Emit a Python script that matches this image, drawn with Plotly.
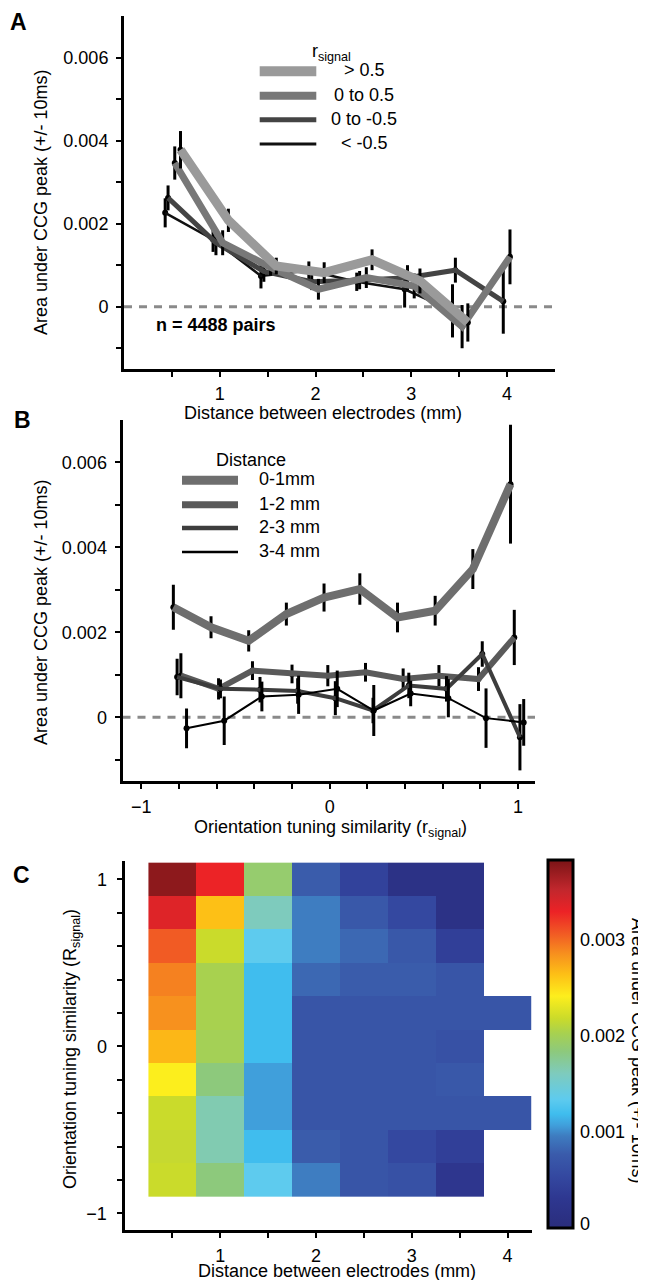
import plotly.graph_objects as go

W, H = 646, 1280
FONT = "Liberation Sans, Arial, Helvetica, sans-serif"

# ---------------- Panel A data: CCG area vs distance, by r_signal ----------------
dist_bins = [0.5, 1.0, 1.5, 2.0, 2.5, 3.0, 3.5, 4.0]
a_names = ["> 0.5", "0 to 0.5", "0 to -0.5", "< -0.5"]
a_offsets = [0.09, 0.03, -0.04, -0.07]
a_vals = [
    [0.00378, 0.00208, 0.00098, 0.00082, 0.00113, 0.00062, -0.00038],
    [0.00346, 0.00154, 0.00095, 0.00042, 0.00070, 0.00050, -0.00048, 0.00120],
    [0.00262, 0.00154, 0.00085, 0.00060, 0.00064, 0.00070, 0.00088, 0.00013],
    [0.00226, 0.00162, 0.00074, 0.00087, 0.00060, 0.00042, -0.00010],
]
a_errs = [
    [0.00045, 0.00028, 0.00020, 0.00025, 0.00025, 0.00030, 0.00046],
    [0.00040, 0.00030, 0.00020, 0.00025, 0.00025, 0.00030, 0.00052, 0.00066],
    [0.00030, 0.00030, 0.00025, 0.00020, 0.00022, 0.00030, 0.00030, 0.00078],
    [0.00035, 0.00030, 0.00030, 0.00022, 0.00022, 0.00044, 0.00064],
]
a_colors = ["#9a9a9a", "#787878", "#444444", "#111111"]
a_widths = [9, 7, 5, 2.5]

# ---------------- Panel B data: CCG area vs r_signal, by distance ----------------
b_names = ["0-1mm", "1-2 mm", "2-3 mm", "3-4 mm"]
b_x = [
    [-0.83, -0.63, -0.43, -0.23, -0.03, 0.16, 0.36, 0.56, 0.76, 0.96],
    [-0.79, -0.59, -0.41, -0.20, -0.01, 0.19, 0.39, 0.58, 0.79, 0.98],
    [-0.81, -0.58, -0.37, -0.17, 0.03, 0.23, 0.42, 0.62, 0.81, 1.01],
    [-0.76, -0.56, -0.36, -0.165, 0.04, 0.234, 0.43, 0.63, 0.83, 1.03],
]
b_vals = [
    [0.00259, 0.00212, 0.00180, 0.00243, 0.00282, 0.00302, 0.00235, 0.00251, 0.00349, 0.00549],
    [0.00098, 0.00067, 0.00110, 0.00102, 0.00098, 0.00106, 0.00090, 0.00098, 0.00090, 0.00188],
    [0.00095, 0.00067, 0.00065, 0.00062, 0.00045, 0.00016, 0.00075, 0.00067, 0.00149, -0.00047],
    [-0.00026, -0.00008, 0.00049, 0.00053, 0.00067, 0.00016, 0.00056, 0.00045, -0.00002, -0.00012],
]
b_errs = [
    [0.00053, 0.00026, 0.00025, 0.00027, 0.00033, 0.00037, 0.00035, 0.00035, 0.00047, 0.00140],
    [0.00053, 0.00025, 0.00022, 0.00022, 0.00025, 0.00022, 0.00025, 0.00025, 0.00028, 0.00065],
    [0.00043, 0.00022, 0.00030, 0.00030, 0.00040, 0.00030, 0.00030, 0.00030, 0.00030, 0.00078],
    [0.00047, 0.00057, 0.00035, 0.00045, 0.00043, 0.00060, 0.00030, 0.00045, 0.00070, 0.00055],
]
b_colors = ["#6e6e6e", "#5a5a5a", "#3d3d3d", "#000000"]
b_widths = [8, 6, 4, 2]

# ---------------- Panel C data: heat map ----------------
c_dist = [0.5, 1.0, 1.5, 2.0, 2.5, 3.0, 3.5, 4.0]
c_r = [-0.8, -0.6, -0.4, -0.2, 0.0, 0.2, 0.4, 0.6, 0.8, 1.0]
c_z = [
    [0.00218, 0.00184, 0.00134, 0.00096, 0.00069, 0.00065, 0.00027, None],
    [0.00216, 0.00165, 0.00119, 0.00077, 0.00069, 0.00054, 0.00042, None],
    [0.00218, 0.00165, 0.00107, 0.00069, 0.00069, 0.00069, 0.00069, 0.00069],
    [0.00241, 0.00184, 0.00107, 0.00069, 0.00069, 0.00069, 0.00073, None],
    [0.00268, 0.00200, 0.00119, 0.00069, 0.00069, 0.00069, 0.00065, None],
    [0.00285, 0.00203, 0.00119, 0.00069, 0.00069, 0.00069, 0.00069, 0.00069],
    [0.00291, 0.00203, 0.00119, 0.00084, 0.00077, 0.00077, 0.00069, None],
    [0.00306, 0.00218, 0.00134, 0.00096, 0.00084, 0.00073, 0.00042, None],
    [0.00337, 0.00264, 0.00161, 0.00096, 0.00073, 0.00054, 0.00015, None],
    [0.00375, 0.00329, 0.00190, 0.00077, 0.00046, 0.00015, 0.00015, None],
]
c_zmax = 0.00383
cbar_labels = [0, 0.001, 0.002, 0.003]
cbar_text = ["0", "0.001", "0.002", "0.003"]
cbar_minor = [0.0005, 0.001, 0.0015, 0.002, 0.0025, 0.003, 0.0035]
c_colorscale = [
    [0.0, "#2a2d7c"], [0.08, "#2e3790"], [0.14, "#3448a0"], [0.2, "#3a5bab"],
    [0.25, "#3e7cc0"], [0.28, "#40a0dc"], [0.31, "#3fbdee"], [0.35, "#5ecbee"],
    [0.42, "#7ecbbd"], [0.48, "#8dc97c"], [0.53, "#a8d14f"], [0.57, "#cbdb2a"],
    [0.63, "#fdee1d"], [0.69, "#fdbf16"], [0.745, "#f7901e"], [0.80, "#f15a24"],
    [0.86, "#ec2226"], [0.92, "#c1272d"], [1.0, "#7b1416"],
]


def px(x):
    return x / W


def py(y):
    return 1 - y / H


fig = go.Figure()

# Panel A traces (black first, lightest on top)
for i in [3, 2, 1, 0]:
    xs = [dist_bins[k] + a_offsets[i] for k in range(len(a_vals[i]))]
    fig.add_trace(go.Scatter(
        x=xs, y=a_vals[i], mode="markers", xaxis="x", yaxis="y",
        marker=dict(color="black", size=6),
        error_y=dict(type="data", array=a_errs[i], color="black", thickness=3, width=0),
        showlegend=False, hoverinfo="skip"))
    fig.add_trace(go.Scatter(
        x=xs, y=a_vals[i], mode="lines", xaxis="x", yaxis="y",
        line=dict(color=a_colors[i], width=a_widths[i]),
        showlegend=False, name=a_names[i]))

# Panel B traces
for i in [0, 1, 2, 3]:
    fig.add_trace(go.Scatter(
        x=b_x[i], y=b_vals[i], mode="markers", xaxis="x2", yaxis="y2",
        marker=dict(color="black", size=6),
        error_y=dict(type="data", array=b_errs[i], color="black", thickness=3, width=0),
        showlegend=False, hoverinfo="skip"))
    fig.add_trace(go.Scatter(
        x=b_x[i], y=b_vals[i], mode="lines", xaxis="x2", yaxis="y2",
        line=dict(color=b_colors[i], width=b_widths[i]),
        showlegend=False, name=b_names[i]))

# Panel C heatmap
cb_top, cb_bot = 852, 1220
cb_left, cb_thick = 540, 25
fig.add_trace(go.Heatmap(
    x=c_dist, y=c_r, z=c_z, xaxis="x3", yaxis="y3",
    colorscale=c_colorscale, zmin=0, zmax=c_zmax, hoverinfo="skip",
    colorbar=dict(
        x=px(cb_left), xanchor="left", xpad=0,
        y=py((cb_top + cb_bot) / 2), yanchor="middle", ypad=0,
        len=cb_bot - cb_top, lenmode="pixels", thickness=cb_thick, thicknessmode="pixels",
        outlinewidth=3, outlinecolor="black",
        ticks="", showticklabels=False,
    )))

axis_common = dict(showline=True, linewidth=3, linecolor="black", ticks="outside",
                   ticklen=5, tickwidth=2, tickcolor="black", showgrid=False,
                   zeroline=False, tickfont=dict(size=18, family=FONT, color="black"),
                   fixedrange=True)

ytv = [0, 0.002, 0.004, 0.006]
ytt = ["0", "0.002", "0.004", "0.006"]
yminor = dict(tickvals=[-0.001, 0.001, 0.003, 0.005], ticks="outside", ticklen=5,
              tickwidth=2, tickcolor="black")
xdist_minor = dict(tickvals=[0.5, 1.5, 2.5, 3.5], ticks="outside", ticklen=5,
                   tickwidth=2, tickcolor="black")
r_minor = dict(tickvals=[-0.8, -0.6, -0.4, -0.2, 0.2, 0.4, 0.6, 0.8],
               ticks="outside", ticklen=5, tickwidth=2, tickcolor="black")

fig.update_layout(
    width=W, height=H, margin=dict(l=0, r=0, t=0, b=0),
    paper_bgcolor="white", plot_bgcolor="white",
    font=dict(family=FONT, size=18, color="black"),
    showlegend=False,
    xaxis=dict(domain=[px(116), px(547)], range=[0, 4.5], anchor="y",
               tickvals=[1, 2, 3, 4], ticktext=["1", "2", "3", "4"],
               minor=xdist_minor, ticklabelstandoff=1, **axis_common),
    yaxis=dict(domain=[py(361), py(8)], range=[-0.0015, 0.007], anchor="x",
               tickvals=ytv, ticktext=ytt, minor=yminor, ticklabelstandoff=4, **axis_common),
    xaxis2=dict(domain=[px(114.5), px(527)], range=[-1.1, 1.09], anchor="y2",
                tickvals=[-1, 0, 1], ticktext=["\u22121", "0", "1"],
                minor=r_minor, ticklabelstandoff=2, **axis_common),
    yaxis2=dict(domain=[py(773), py(412)], range=[-0.0015, 0.007], anchor="x2",
                tickvals=ytv, ticktext=ytt, minor=yminor, ticklabelstandoff=4, **axis_common),
    xaxis3=dict(domain=[px(116.5), px(523.5)], range=[0, 4.25], anchor="y3",
                tickvals=[1, 2, 3, 4], ticktext=["1", "2", "3", "4"],
                minor=xdist_minor, ticklabelstandoff=2, **axis_common),
    yaxis3=dict(domain=[py(1222), py(853)], range=[-1.1, 1.11], anchor="x3",
                tickvals=[-1, 0, 1], ticktext=["\u22121", "0", "1"],
                minor=r_minor, ticklabelstandoff=6, **axis_common),
)

# dashed zero lines
for xr, yr in [("x domain", "y"), ("x2 domain", "y2")]:
    fig.add_shape(type="line", xref=xr, yref=yr, x0=0, x1=1, y0=0, y1=0,
                  line=dict(color="#8a8a8a", width=3, dash="8px,7px"), layer="below")


def cb_y(v):
    return cb_bot - v / c_zmax * (cb_bot - cb_top)


# colorbar tick marks on both inner edges (MATLAB style)
for v in cbar_minor:
    yy = cb_y(v)
    for x0, x1 in [(cb_left, cb_left + 5), (cb_left + cb_thick - 5, cb_left + cb_thick)]:
        fig.add_shape(type="line", xref="paper", yref="paper", x0=px(x0), x1=px(x1),
                      y0=py(yy), y1=py(yy), line=dict(color="black", width=2))


def legend_line(x0, x1, y, color, width):
    fig.add_shape(type="line", xref="paper", yref="paper", x0=px(x0), x1=px(x1),
                  y0=py(y), y1=py(y), line=dict(color=color, width=width))


def text(x, y, s, size=18, xanchor="center", angle=0, bold=False):
    fig.add_annotation(x=px(x), y=py(y), xref="paper", yref="paper", text=s,
                       showarrow=False, xanchor=xanchor, yanchor="middle",
                       textangle=angle, borderpad=0,
                       font=dict(size=size, family=FONT, color="black",
                                 weight="bold" if bold else "normal"))


# colorbar tick labels
for v, s in zip(cbar_labels, cbar_text):
    text(571, cb_y(v) - (4 if v == 0 else 0), s, xanchor="left")

leg_a_y = [63.3, 87.7, 111.7, 136]
for i in range(4):
    legend_line(251.7, 308.3, leg_a_y[i], a_colors[i], [10, 8, 5, 3][i])
    text(356, leg_a_y[i] - 1, a_names[i])
text(303, 44, "r<sub>signal</sub>", xanchor="left")

leg_b_y = [472.3, 496.7, 520, 544]
for i in range(4):
    legend_line(174, 230, leg_b_y[i], b_colors[i], [9, 7, 4.5, 2.5][i])
    text(250, leg_b_y[i] - 1, b_names[i], xanchor="left")
text(243, 452, "Distance")

text(147, 317, "n = 4488 pairs", xanchor="left", bold=True)

# axis titles
text(315, 405, "Distance between electrodes (mm)")
text(33, 194, "Area under CCG peak (+/- 10ms)", angle=-90)
text(33, 604, "Area under CCG peak (+/- 10ms)", angle=-90)
text(322, 820, "Orientation tuning similarity (r<sub>signal</sub>)")
text(63, 1041, "Orientation tuning similarity (R<sub>signal</sub>)", angle=-90)
text(329, 1263, "Distance between electrodes (mm)")
text(630, 1043, "Area under CCG peak (+/- 10ms)", angle=90)

# panel letters
text(10, 14, "A", size=23, bold=True)
text(14, 412, "B", size=23, bold=True)
text(13, 867, "C", size=23, bold=True)

fig.write_html("out.html")
